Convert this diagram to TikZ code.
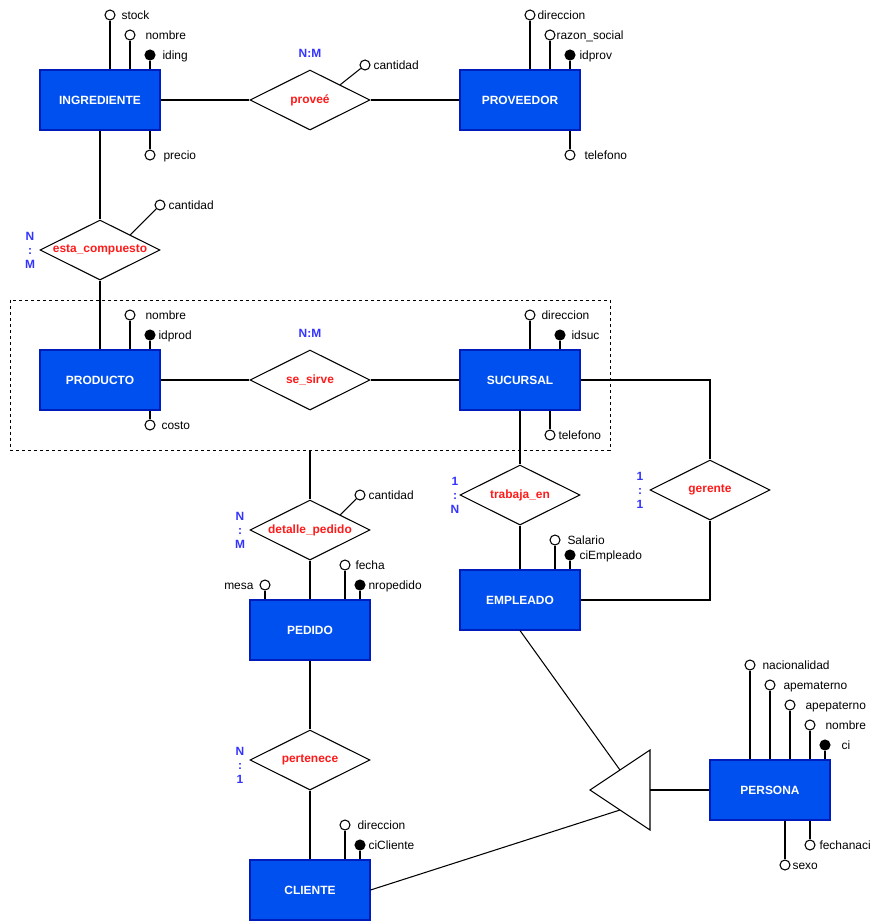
\documentclass[tikz,border=0pt]{standalone}
\usepackage{fontspec}
\setmainfont{Liberation Sans}
\usetikzlibrary{shapes.geometric}
\definecolor{entfill}{HTML}{0050EF}
\definecolor{entline}{HTML}{001DBC}
\definecolor{relred}{HTML}{FF1A1A}
\definecolor{cardblue}{HTML}{3333FF}

\begin{document}
\begin{tikzpicture}[x=0.02cm,y=-0.02cm,line width=0.6pt,
  font=\fontsize{6.8}{8}\selectfont,
  ent/.style={draw=entline,fill=entfill,text=white,font=\fontsize{6.8}{8}\selectfont\bfseries,
    minimum width=2.4cm,minimum height=1.2cm,inner sep=0pt},
  rel/.style={draw,diamond,aspect=2,minimum width=2.4cm,minimum height=1.2cm,inner sep=0pt,
    text=relred,font=\fontsize{6.8}{8}\selectfont\bfseries},
  att/.style={draw,circle,fill=white,minimum size=0.2cm,inner sep=0pt},
  key/.style={att,fill=black},
  txt/.style={anchor=west,inner sep=0pt,text height=4.9pt,text depth=0pt},
  card/.style={text=cardblue,font=\fontsize{6.8}{8}\selectfont\bfseries,inner sep=0pt,align=center}]
\useasboundingbox (0,0) rectangle (875,921);

% entidades
\node[ent] (ing) at (100,100) {INGREDIENTE};
\node[ent] (prov) at (520,100) {PROVEEDOR};
\node[ent] (prod) at (100,380) {PRODUCTO};
\node[ent] (suc) at (520,380) {SUCURSAL};
\node[ent] (emp) at (520,600) {EMPLEADO};
\node[ent] (ped) at (310,630) {PEDIDO};
\node[ent] (cli) at (310,890) {CLIENTE};
\node[ent] (per) at (770,790) {PERSONA};

% relaciones
\node[rel] (rprov) at (310,100) {proveé};
\node[rel] (rcomp) at (100,250) {esta\_compuesto};
\node[rel] (rsirve) at (310,380) {se\_sirve};
\node[rel] (rtrab) at (520,495) {trabaja\_en};
\node[rel] (rger) at (710,490) {gerente};
\node[rel] (rdet) at (310,530) {detalle\_pedido};
\node[rel] (rpert) at (310,760) {pertenece};

% cardinalidades
\node[card] (cprov) at (310,53) {N:M};
\node[card] (ccomp) at (30,250) {N\\:\\M};
\node[card] (csirve) at (310,333) {N:M};
\node[card] (ctrab) at (455,495) {1\\:\\N};
\node[card] (cger) at (640,490) {1\\:\\1};
\node[card] (cdet) at (240,530) {N\\:\\M};
\node[card] (cpert) at (240,765) {N\\:\\1};

% agregacion
\node[draw,dash pattern=on 1.7pt off 1.7pt,line width=0.5pt,minimum width=12cm,minimum height=3cm] (agg) at (310,375) {};

% atributos INGREDIENTE
\node[att] (ing1) at (110,15) {}; \node[txt] (ing1t) at (121,15) {stock};
\node[att] (ing2) at (130,35) {}; \node[txt] (ing2t) at (145,35) {nombre};
\node[key] (ing3) at (150,55) {}; \node[txt] (ing3t) at (162,55) {iding};
\node[att] (ing4) at (150,155) {}; \node[txt] (ing4t) at (163,155) {precio};
\draw (ing1) -- (ing1 |- ing.north);
\draw (ing2) -- (ing2 |- ing.north);
\draw (ing3) -- (ing3 |- ing.north);
\draw (ing4) -- (ing4 |- ing.south);

% atributos PROVEEDOR
\node[att] (prov1) at (530,15) {}; \node[txt] (prov1t) at (537,15) {direccion};
\node[att] (prov2) at (550,35) {}; \node[txt] (prov2t) at (556,35) {razon\_social};
\node[key] (prov3) at (570,55) {}; \node[txt] (prov3t) at (579,55) {idprov};
\node[att] (prov4) at (570,155) {}; \node[txt] (prov4t) at (584,155) {telefono};
\draw (prov1) -- (prov1 |- prov.north);
\draw (prov2) -- (prov2 |- prov.north);
\draw (prov3) -- (prov3 |- prov.north);
\draw (prov4) -- (prov4 |- prov.south);

% atributos de relaciones
\node[att] (rprov1) at (365,65) {}; \node[txt] (rprov1t) at (373,65) {cantidad};
\node[att] (rcomp1) at (160,205) {}; \node[txt] (rcomp1t) at (168,205) {cantidad};
\node[att] (rdet1) at (360,495) {}; \node[txt] (rdet1t) at (368,495) {cantidad};
\draw (rprov1) -- (rprov.north east);
\draw (rcomp1) -- (rcomp.north east);
\draw (rdet1) -- (rdet.north east);

% atributos PRODUCTO
\node[att] (prod1) at (130,315) {}; \node[txt] (prod1t) at (145,315) {nombre};
\node[key] (prod2) at (150,335) {}; \node[txt] (prod2t) at (158,335) {idprod};
\node[att] (prod3) at (150,425) {}; \node[txt] (prod3t) at (161,425) {costo};
\draw (prod1) -- (prod1 |- prod.north);
\draw (prod2) -- (prod2 |- prod.north);
\draw (prod3) -- (prod3 |- prod.south);

% atributos SUCURSAL
\node[att] (suc1) at (530,315) {}; \node[txt] (suc1t) at (541,315) {direccion};
\node[key] (suc2) at (560,335) {}; \node[txt] (suc2t) at (571,335) {idsuc};
\node[att] (suc3) at (550,435) {}; \node[txt] (suc3t) at (558,435) {telefono};
\draw (suc1) -- (suc1 |- suc.north);
\draw (suc2) -- (suc2 |- suc.north);
\draw (suc3) -- (suc3 |- suc.south);

% atributos EMPLEADO
\node[att] (emp1) at (555,540) {}; \node[txt] (emp1t) at (567,540) {Salario};
\node[key] (emp2) at (570,555) {}; \node[txt] (emp2t) at (579,555) {ciEmpleado};
\draw (emp1) -- (emp1 |- emp.north);
\draw (emp2) -- (emp2 |- emp.north);

% atributos PEDIDO
\node[att] (ped1) at (265,585) {}; \node[txt,anchor=east] (ped1t) at (254,585) {mesa};
\node[att] (ped2) at (345,565) {}; \node[txt] (ped2t) at (355,565) {fecha};
\node[key] (ped3) at (360,585) {}; \node[txt] (ped3t) at (368,585) {nropedido};
\draw (ped1) -- (ped1 |- ped.north);
\draw (ped2) -- (ped2 |- ped.north);
\draw (ped3) -- (ped3 |- ped.north);

% atributos CLIENTE
\node[att] (cli1) at (345,825) {}; \node[txt] (cli1t) at (357,825) {direccion};
\node[key] (cli2) at (360,845) {}; \node[txt] (cli2t) at (368,845) {ciCliente};
\draw (cli1) -- (cli1 |- cli.north);
\draw (cli2) -- (cli2 |- cli.north);

% atributos PERSONA
\node[att] (per1) at (750,665) {}; \node[txt] (per1t) at (762,665) {nacionalidad};
\node[att] (per2) at (770,685) {}; \node[txt] (per2t) at (783,685) {apematerno};
\node[att] (per3) at (790,705) {}; \node[txt] (per3t) at (805,705) {apepaterno};
\node[att] (per4) at (810,725) {}; \node[txt] (per4t) at (825,725) {nombre};
\node[key] (per5) at (825,745) {}; \node[txt] (per5t) at (841,745) {ci};
\node[att] (per6) at (810,845) {}; \node[txt] (per6t) at (819,845) {fechanaci};
\node[att] (per7) at (785,865) {}; \node[txt] (per7t) at (792,865) {sexo};
\draw (per1) -- (per1 |- per.north);
\draw (per2) -- (per2 |- per.north);
\draw (per3) -- (per3 |- per.north);
\draw (per4) -- (per4 |- per.north);
\draw (per5) -- (per5 |- per.north);
\draw (per6) -- (per6 |- per.south);
\draw (per7) -- (per7 |- per.south);

% conexiones
\draw (ing.east) -- (rprov.west);
\draw (rprov.east) -- (prov.west);
\draw (ing.south) -- (rcomp.north);
\draw (rcomp.south) -- (prod.north);
\draw (prod.east) -- (rsirve.west);
\draw (rsirve.east) -- (suc.west);
\draw (suc.south) -- (rtrab.north);
\draw (rtrab.south) -- (emp.north);
\draw (suc.east) -| (rger.north);
\draw (rger.south) |- (emp.east);
\draw (agg.south) -- (rdet.north);
\draw (rdet.south) -- (ped.north);
\draw (ped.south) -- (rpert.north);
\draw (rpert.south) -- (cli.north);

% generalizacion
\coordinate (isaapex) at (590,790);
\coordinate (isatop) at (650,750);
\coordinate (isabot) at (650,830);
\coordinate (isaright) at (650,790);
\coordinate (isaup) at (620,770);
\coordinate (isalow) at (620,810);
\draw (isaapex) -- (isatop) -- (isabot) -- cycle;
\draw (emp.south) -- (isaup);
\draw (cli.east) -- (isalow);
\draw (isaright) -- (per.west);
\end{tikzpicture}
\end{document}
